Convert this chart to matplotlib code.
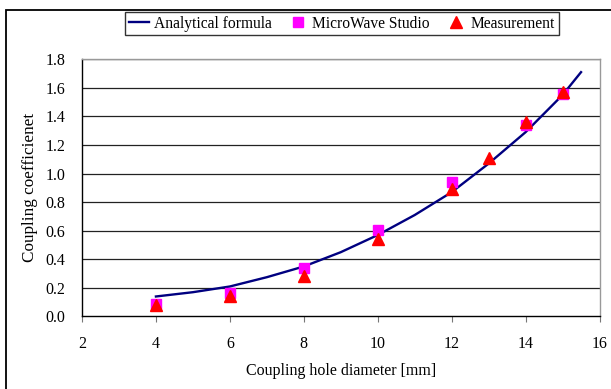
import matplotlib
matplotlib.use("Agg")
import matplotlib.pyplot as plt
from matplotlib.patches import Rectangle

plt.rcParams['font.family'] = ['Liberation Serif', 'DejaVu Serif']

# Analytical formula curve
curve_x = [4, 5, 6, 7, 8, 9, 10, 11, 12, 13, 14, 15, 15.5]
curve_y = [0.14, 0.17, 0.21, 0.275, 0.35, 0.45, 0.57, 0.71, 0.87, 1.07, 1.29, 1.55, 1.71]

# MicroWave Studio
mws_x = [4, 6, 8, 10, 12, 14, 15]
mws_y = [0.086, 0.167, 0.34, 0.605, 0.94, 1.34, 1.56]

# Measurement
meas_x = [4, 6, 8, 10, 12, 13, 14, 15]
meas_y = [0.08, 0.146, 0.28, 0.54, 0.89, 1.11, 1.36, 1.57]

x_ticks = [2, 4, 6, 8, 10, 12, 14, 16]
y_ticks = [0.0, 0.2, 0.4, 0.6, 0.8, 1.0, 1.2, 1.4, 1.6, 1.8]

FS = 11.5

fig = plt.figure(figsize=(6.11, 3.89), dpi=100)
ax = fig.add_axes([0.1342, 0.1864, 0.9812 - 0.1342, 0.8476 - 0.1864])

# figure border
fig.patches.append(Rectangle((5.5 / 611, -0.01), 1.0, 1 - 10 / 389 + 0.01,
                             transform=fig.transFigure, fill=False,
                             edgecolor='black', linewidth=1.3))

for yv in y_ticks[1:]:
    ax.axhline(yv, color='#222222', linewidth=0.9, zorder=1)

ax.plot(curve_x, curve_y, color='#000080', linewidth=1.7, zorder=3,
        label='Analytical formula')
ax.plot(mws_x, mws_y, linestyle='none', marker='s', markersize=7,
        color='#FF00FF', zorder=4, label='MicroWave Studio')
ax.plot(meas_x, meas_y, linestyle='none', marker='^', markersize=8,
        color='#FF0000', zorder=5, label='Measurement')

ax.set_xlim(2, 16)
ax.set_ylim(0, 1.8)
ax.set_xticks(x_ticks)
ax.set_xticklabels([str(v) for v in x_ticks])
ax.set_yticks(y_ticks)
ax.set_yticklabels([f"{v:.1f}" for v in y_ticks])
ax.tick_params(axis='x', direction='out', length=4.3, color='#777777',
               labelsize=FS, pad=10)
ax.tick_params(axis='y', length=0, labelsize=FS, pad=12)

for s in ['left', 'bottom']:
    ax.spines[s].set_color('black')
    ax.spines[s].set_linewidth(1.0)
for s in ['top', 'right']:
    ax.spines[s].set_color('#999999')
    ax.spines[s].set_linewidth(1.0)

ax.set_xlabel('Coupling hole diameter [mm]', fontsize=FS, labelpad=7.5)
ax.set_ylabel('Coupling coefficienet', fontsize=FS + 0.8, labelpad=5.5)

leg = fig.legend(loc='center', bbox_to_anchor=(342 / 611, 1 - 23.5 / 389), ncol=3,
                 fontsize=11.2, frameon=True, fancybox=False,
                 edgecolor='black', handlelength=1.3, handletextpad=0.3,
                 columnspacing=1.0, borderpad=0.25)
leg.get_frame().set_linewidth(1.0)

fig.savefig('out.png', dpi=100)
